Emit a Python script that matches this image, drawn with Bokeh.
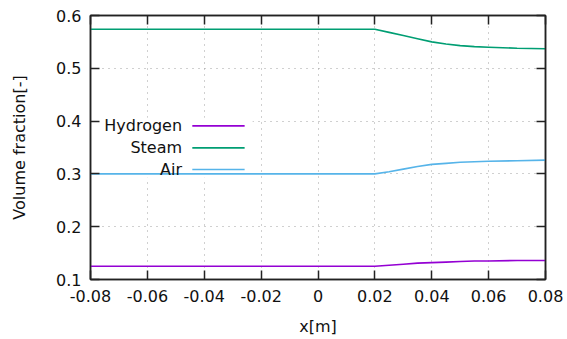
from bokeh.plotting import figure
from bokeh.models import (FixedTicker, LinearAxis, Range1d, Label, BoxAnnotation)
from bokeh.embed import file_html
from bokeh.resources import INLINE

# ---- data ----
x = [-0.08, 0.02, 0.025, 0.03, 0.035, 0.04, 0.045, 0.05, 0.055, 0.06, 0.07, 0.08]
hydrogen = [0.125, 0.125, 0.127, 0.129, 0.131, 0.132, 0.133, 0.134, 0.135, 0.135, 0.136, 0.136]
steam = [0.574, 0.574, 0.568, 0.562, 0.556, 0.550, 0.546, 0.543, 0.541, 0.540, 0.538, 0.537]
air = [0.300, 0.300, 0.304, 0.309, 0.314, 0.318, 0.320, 0.322, 0.323, 0.324, 0.325, 0.326]
series_names = ["Hydrogen", "Steam", "Air"]
series_colors = ["#9400d3", "#009e73", "#56b4e9"]
x_ticks = [-0.08, -0.06, -0.04, -0.02, 0, 0.02, 0.04, 0.06, 0.08]
x_tick_labels = ["-0.08", "-0.06", "-0.04", "-0.02", "0", "0.02", "0.04", "0.06", "0.08"]
y_ticks = [0.1, 0.2, 0.3, 0.4, 0.5, 0.6]
y_tick_labels = ["0.1", "0.2", "0.3", "0.4", "0.5", "0.6"]

FONT = "DejaVu Sans"
FS = "16px"

p = figure(width=567, height=339, output_backend="svg", toolbar_location=None,
           x_range=Range1d(-0.08, 0.08), y_range=Range1d(0.1, 0.6),
           min_border_left=90, min_border_right=22, min_border_top=15, min_border_bottom=60,
           x_axis_label="x[m]", y_axis_label="Volume fraction[-]")
p.background_fill_color = "white"
p.border_fill_color = "white"
p.outline_line_color = "#222222"
p.outline_line_width = 1.5

for ax, ticks, labels in ((p.xaxis[0], x_ticks, x_tick_labels), (p.yaxis[0], y_ticks, y_tick_labels)):
    ax.ticker = FixedTicker(ticks=ticks)
    ax.major_label_overrides = {t: l for t, l in zip(ticks, labels)}
    ax.minor_tick_line_color = None
    ax.major_tick_in = 9
    ax.major_tick_out = 0
    ax.major_tick_line_color = "#222222"
    ax.major_tick_line_width = 1.5
    ax.axis_line_color = "#222222"
    ax.axis_line_width = 1.5
    ax.major_label_text_font = FONT
    ax.major_label_text_font_size = FS
    ax.major_label_text_color = "#111111"
    ax.axis_label_text_font = FONT
    ax.axis_label_text_font_size = FS
    ax.axis_label_text_font_style = "normal"
    ax.axis_label_text_color = "#111111"

p.xaxis[0].major_label_standoff = 10
p.yaxis[0].major_label_standoff = 9
p.xaxis[0].axis_label_standoff = 12
p.yaxis[0].axis_label_standoff = 24

# mirrored ticks on top and right
for loc, ticks in (("above", x_ticks), ("right", y_ticks)):
    ax = LinearAxis(ticker=FixedTicker(ticks=ticks))
    ax.major_label_overrides = {t: "" for t in ticks}
    ax.major_label_text_font_size = "1px"
    ax.major_label_standoff = 0
    ax.minor_tick_line_color = None
    ax.major_tick_in = 9
    ax.major_tick_out = 0
    ax.major_tick_line_color = "#222222"
    ax.major_tick_line_width = 1.5
    ax.axis_line_color = "#222222"
    ax.axis_line_width = 1.5
    p.add_layout(ax, loc)

p.grid.grid_line_color = "#a0a0a0"
p.grid.grid_line_dash = "1 5"
p.grid.grid_line_width = 1
p.xgrid.ticker = FixedTicker(ticks=x_ticks[1:-1])
p.ygrid.ticker = FixedTicker(ticks=y_ticks[1:-1])

# opaque key box
key_box = BoxAnnotation(left=-0.0765, right=-0.023, bottom=0.2926, top=0.4065,
                        fill_color="white", fill_alpha=1.0, line_color=None, level="underlay")
p.add_layout(key_box)

for ys, c in zip((hydrogen, steam, air), series_colors):
    p.line(x, ys, line_color=c, line_width=1.6)

# key entries (text right-aligned, sample line after)
key_y = [0.391, 0.3493, 0.3082]
for name, c, ky in zip(series_names, series_colors, key_y):
    p.add_layout(Label(x=-0.0478, y=ky, text=name, text_align="right", text_baseline="middle",
                       text_font=FONT, text_font_size=FS, text_color="#111111"))
    p.segment(x0=[-0.0442], y0=[ky], x1=[-0.0258], y1=[ky], line_color=c, line_width=1.6)

open("out.html", "w").write(file_html(p, INLINE))
